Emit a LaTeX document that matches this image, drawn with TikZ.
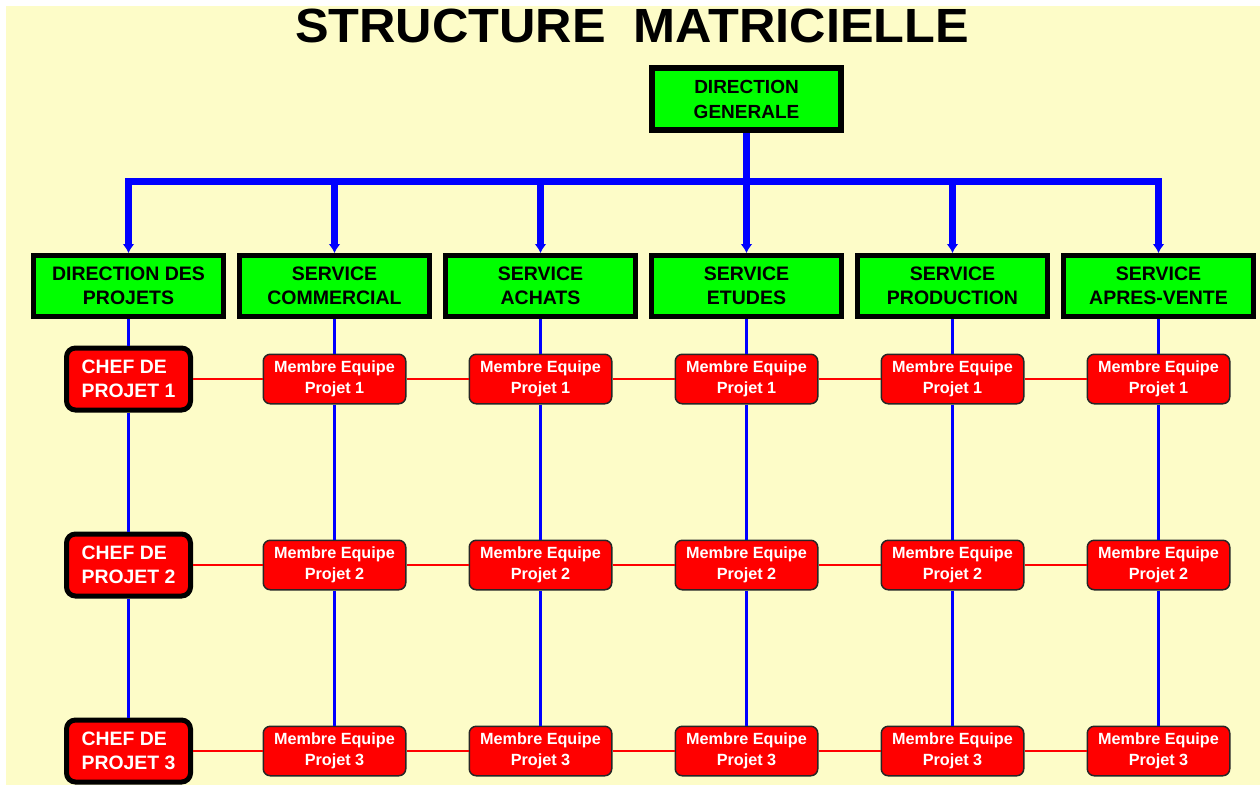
\documentclass[tikz,border=0pt]{standalone}
\usepackage{fontspec}
\setmainfont{Liberation Sans}
\usetikzlibrary{arrows.meta}
\definecolor{paper}{RGB}{253,252,200}
\definecolor{boxgreen}{RGB}{0,255,0}
\definecolor{boxred}{RGB}{255,0,0}
\definecolor{linkblue}{RGB}{0,0,255}

\begin{document}
\begin{tikzpicture}[x=1pt,y=-1pt,
  service/.style={draw=black, fill=boxgreen, line width=5pt, minimum width=190pt,
    minimum height=61pt, inner sep=0pt, align=center,
    font=\bfseries\fontsize{19.5}{24}\selectfont, text=black},
  direction/.style={service, line width=6pt, minimum width=189pt, minimum height=62pt,
    font=\bfseries\fontsize{19}{25}\selectfont},
  chef/.style={draw=black, fill=boxred, line width=5pt, rounded corners=9pt,
    minimum width=124pt, minimum height=62pt, inner sep=0pt, align=left,
    font=\bfseries\fontsize{19.4}{24}\selectfont, text=white},
  membre/.style={draw=black!85, fill=boxred, line width=1.5pt, rounded corners=7pt,
    minimum width=142.5pt, minimum height=49.5pt, inner sep=0pt, align=center,
    font=\bfseries\fontsize{16.2}{21}\selectfont, text=white},
  bus/.style={draw=linkblue, line width=7pt},
  tip/.style={-{Latex[length=9pt,width=12pt]}},
  column/.style={draw=linkblue, line width=3.5pt},
  row/.style={draw=boxred, line width=2.5pt},
]
% page and patterned paper
\fill[white] (0,0) rectangle (1260,785);
\fill[paper] (6,6) rectangle (1260,785);
\useasboundingbox (0,0) rectangle (1260,785);

% title
\node[font=\bfseries\fontsize{48}{48}\selectfont, anchor=base, inner sep=0pt]
  (title) at (632,42) {\scalebox{1.05}[1]{STRUCTURE\ \ MATRICIELLE}};

% top of the hierarchy
\node[direction] (dg) at (746.5,99) {DIRECTION\\GENERALE};

% functional departments
\foreach \i/\t in {1/{DIRECTION DES\\PROJETS}, 2/{SERVICE\\COMMERCIAL},
                   3/{SERVICE\\ACHATS}, 4/{SERVICE\\ETUDES},
                   5/{SERVICE\\PRODUCTION}, 6/{SERVICE\\APRES-VENTE}}
  \node[service] (g\i) at ({128.5+206*(\i-1)},286) {\t};

% project managers
\foreach \r/\y in {1/379, 2/565, 3/751}
  \node[chef] (c\r) at (128.5,\y) {CHEF DE\\PROJET \r};

% project team members
\foreach \r/\y in {1/379, 2/565, 3/751}
  \foreach \j in {2,...,6}
    \node[membre] (m\r\j) at ({334.5+206*(\j-2)},\y) {Membre Equipe\\Projet \r};

% hierarchical bus
\coordinate (busy) at (0,181);
\draw[bus, {Latex[length=9pt,width=12pt]}-{Latex[length=9pt,width=12pt]}]
  (g1.north) -- (g1.north |- busy) -- (g6.north |- busy) -- (g6.north);
\foreach \i in {2,3,5}
  \draw[bus, tip] (g\i.north |- busy) -- (g\i.north);
\draw[bus, tip] (dg.south) -- (g4.north);

% vertical (functional) links
\draw[column] (g1.south) -- (c1.north);
\draw[column] (c1.south) -- (c2.north);
\draw[column] (c2.south) -- (c3.north);
\foreach \j in {2,...,6} {
  \draw[column] (g\j.south) -- (m1\j.north);
  \draw[column] (m1\j.south) -- (m2\j.north);
  \draw[column] (m2\j.south) -- (m3\j.north);
}

% horizontal (project) links
\foreach \r in {1,2,3} {
  \draw[row] (c\r.east) -- (m\r2.west);
  \foreach \j in {2,...,5} {
    \pgfmathtruncatemacro\k{\j+1}
    \draw[row] (m\r\j.east) -- (m\r\k.west);
  }
}
\end{tikzpicture}
\end{document}
